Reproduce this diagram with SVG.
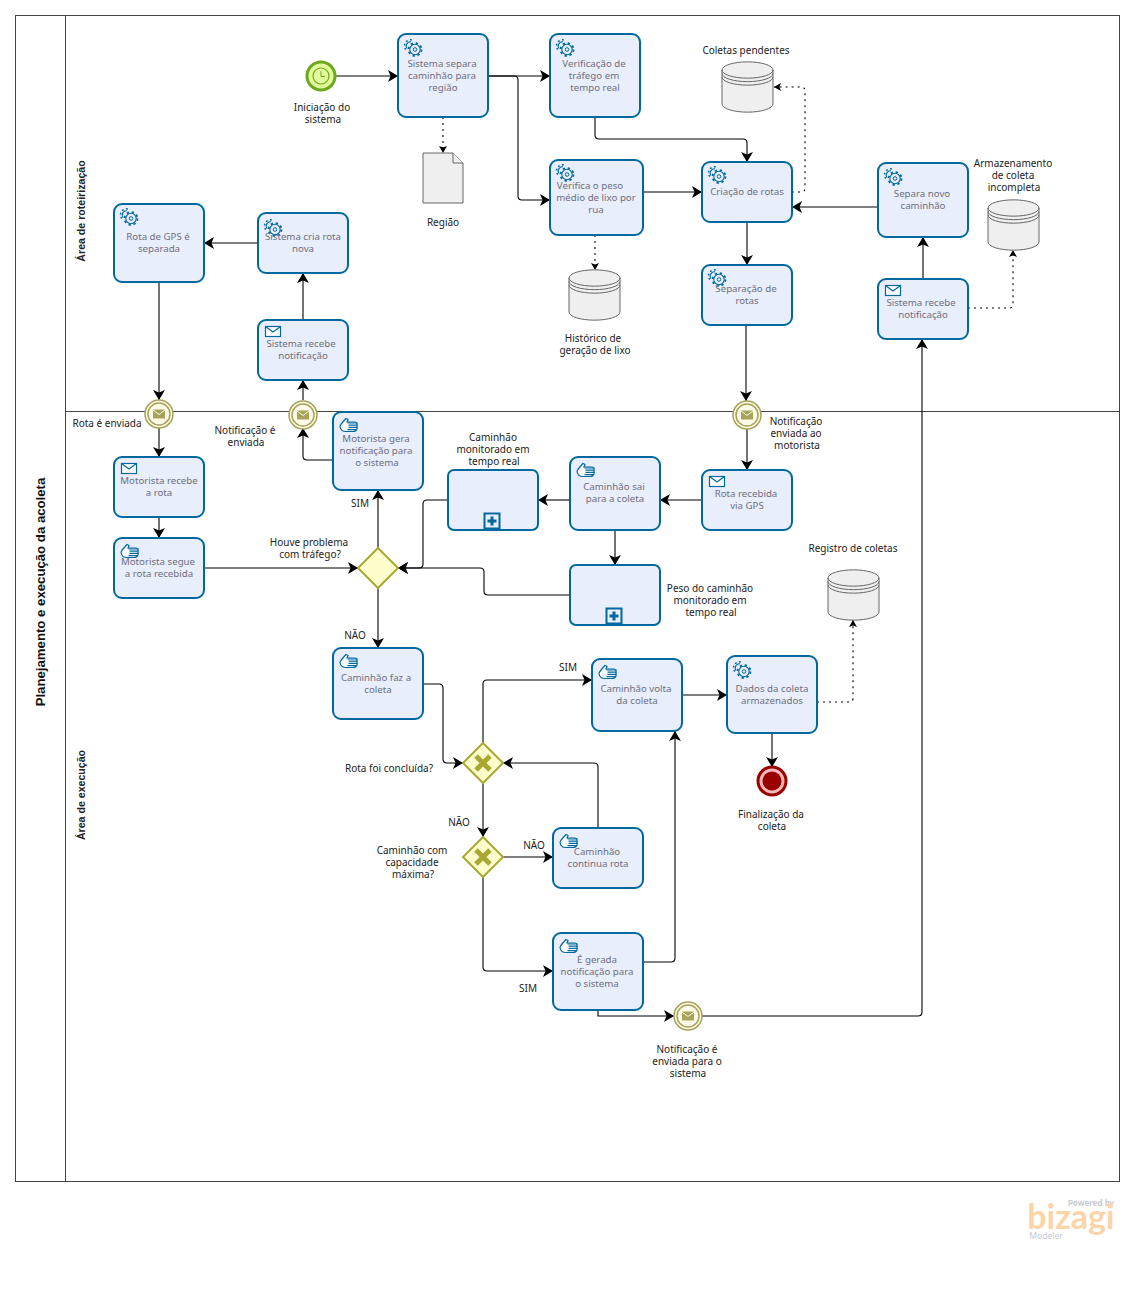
<svg xmlns="http://www.w3.org/2000/svg" width="1136" height="1311" viewBox="0 0 1136 1311">
<style>
text{font-family:"Noto Sans","Open Sans",sans-serif;font-size:10px;fill:#222;text-anchor:middle}
.t{fill:#6e6e7c;font-size:9.700px}
.task{fill:#e9eefd;stroke:#00689f;stroke-width:2}
.c{fill:none;stroke:#000;stroke-width:1.1}
.d{stroke-dasharray:2 4}
.lane{fill:none;stroke:#444;stroke-width:1}
.ds{fill:#efefef;stroke:#666;stroke-width:1}
.ev1{fill:#fdfbe8;stroke:#a8a35a;stroke-width:1.5}
.gw{fill:#fefdcb;stroke:#a9a834;stroke-width:2}
.x{stroke:#a9a834;stroke-width:5;fill:none}
.ic{fill:none;stroke:#00689f;stroke-width:1}
.lane-title{font-family:"Liberation Sans",sans-serif;font-weight:bold;font-size:10.600px}
.logo{fill:#c6cbd0;font-size:8px}
</style>
<defs>
<marker id="a" markerUnits="userSpaceOnUse" markerWidth="14" markerHeight="14" refX="11" refY="7" orient="auto">
<path d="M11 7L1 1L3.500 7L1 13Z" fill="#000"/>
</marker>
<marker id="b" markerUnits="userSpaceOnUse" markerWidth="10" markerHeight="10" refX="8" refY="5" orient="auto">
<path d="M8 5L1 1L2.500 5L1 9Z" fill="#000"/>
</marker>
<g id="gear" class="ic">
<circle cx="12" cy="10.500" r="5.200" stroke-width="1.100"/>
<circle cx="12" cy="10.500" r="6.500" stroke-width="1.800" stroke-dasharray="2.300 2.800"/>
<circle cx="12" cy="10.500" r="1.800"/>
<path d="M3.800 9.500A4.400 4.400 0 0 1 8 2.800" stroke-width="1.100"/>
<path d="M2.800 10.500A6 6 0 0 1 9 1" stroke-width="1.500" stroke-dasharray="1.800 2.400"/>
</g>
<g id="hand" class="ic">
<path d="M1 8.500C1.500 6 4 4 7 .5L9 1.500L8 4H16Q18.500 4.500 18 6.500V11Q17 13.500 14 13.500H7C3.500 13.500 1.500 11.500 1 8.500Z" fill="#fff" stroke-width="1.200"/>
<path d="M8.500 5H18.500M9.500 7.200H18.500M9.500 9.400H18.500M8.500 11.600H17" stroke-width="1.200"/>
</g>
<g id="msg" class="ic">
<rect x=".5" y=".5" width="15" height="10" fill="#fff" stroke-width="1.200"/>
<path d="M.5 .5L8 6L15.500 .5" stroke-width="1.200"/>
</g>
<g id="ie">
<circle r="14" class="ev1"/>
<circle r="11" class="ev1"/>
<path d="M-6 -4.500H6V4.500H-6Z" fill="#a8a35a"/>
<path d="M-6 -4L0 .5L6 -4" fill="none" stroke="#fdfbe8" stroke-width="1"/>
</g>
<g id="store">
<path d="M0 8A25 8 0 0 1 51 8V42A25 8 0 0 1 0 42Z" class="ds"/>
<path d="M0 8A25 8 0 0 0 51 8M0 11.500A25 8 0 0 0 51 11.500M0 15A25 8 0 0 0 51 15" fill="none" stroke="#666"/>
</g>
<g id="plus">
<rect x="-7.500" y="-7.500" width="15" height="15" fill="#e9eefd" stroke="#00689f" stroke-width="2"/>
<path d="M0 -4.500V4.500M-4.500 0H4.500" stroke="#00689f" stroke-width="3"/>
</g>
</defs>

<rect width="1136" height="1311" fill="#fff"/>
<g id="pool">
<rect class="lane" x="15.500" y="15.500" width="1104" height="1166"/>
<path class="lane" d="M65.500 15.500V1181.500M65.500 411.500H1119.500"/>
<text x="45" y="592" transform="rotate(-90 45 592)" style="font-family:'Liberation Sans',sans-serif;font-size:13.200px;font-weight:bold;fill:#111">Planejamento e execução da acoleta</text>
<text class="lane-title" x="85" y="211" transform="rotate(-90 85 211)">Área de roteirização</text>
<text class="lane-title" x="85" y="795" transform="rotate(-90 85 795)">Área de execução</text>
</g>

<g id="connectors">
<path class="c" marker-end="url(#a)" d="M336 76H398"/>
<path class="c" marker-end="url(#a)" d="M488 76H550"/>
<path class="c" marker-end="url(#a)" d="M488 76H514Q518 76 518 80V196Q518 200 522 200H550"/>
<path class="c d" marker-end="url(#b)" d="M443 117V153"/>
<path class="c" marker-end="url(#a)" d="M595 117V135Q595 139 599 139H743Q747 139 747 143V162"/>
<path class="c" marker-end="url(#a)" d="M643 192H702"/>
<path class="c d" marker-end="url(#b)" d="M595 235V270"/>
<path class="c d" marker-end="url(#b)" d="M792 192H801Q805 192 805 188V91Q805 87 801 87H774"/>
<path class="c" marker-end="url(#a)" d="M878 207H792"/>
<path class="c" marker-end="url(#a)" d="M747 222V265"/>
<path class="c" marker-end="url(#a)" d="M746 325V401"/>
<path class="c" marker-end="url(#a)" d="M747 429V470"/>
<path class="c" marker-end="url(#a)" d="M702 500H660"/>
<path class="c" marker-end="url(#a)" d="M570 500H538"/>
<path class="c" marker-end="url(#a)" d="M615 530V565"/>
<path class="c" marker-end="url(#a)" d="M448 500H427Q423 500 423 504V564Q423 568 419 568H398"/>
<path class="c" marker-end="url(#a)" d="M570 595H488Q484 595 484 591V572Q484 568 480 568H398"/>
<path class="c" marker-end="url(#a)" d="M923 279V237"/>
<path class="c d" marker-end="url(#b)" d="M968 308H1009Q1013 308 1013 304V250"/>
<path class="c" marker-end="url(#a)" d="M598 1010V1016H674"/>
<path class="c" marker-end="url(#a)" d="M702 1016H918Q922 1016 922 1012V339"/>
<path class="c" marker-end="url(#a)" d="M643 962H671Q675 962 675 958V731"/>
<path class="c" marker-end="url(#a)" d="M483 743V684Q483 680 487 680H592"/>
<path class="c" marker-end="url(#a)" d="M423 684H439Q443 684 443 688V759Q443 763 447 763H463"/>
<path class="c" marker-end="url(#a)" d="M598 828V767Q598 763 594 763H503"/>
<path class="c" marker-end="url(#a)" d="M483 783V837"/>
<path class="c" marker-end="url(#a)" d="M503 857H553"/>
<path class="c" marker-end="url(#a)" d="M483 877V967Q483 971 487 971H553"/>
<path class="c" marker-end="url(#a)" d="M682 695H727"/>
<path class="c" marker-end="url(#a)" d="M772 733V767"/>
<path class="c d" marker-end="url(#b)" d="M817 702H849Q853 702 853 698V620"/>
<path class="c" marker-end="url(#a)" d="M378 548V490"/>
<path class="c" marker-end="url(#a)" d="M378 588V648"/>
<path class="c" marker-end="url(#a)" d="M204 568H358"/>
<path class="c" marker-end="url(#a)" d="M159 517V538"/>
<path class="c" marker-end="url(#a)" d="M159 428V457"/>
<path class="c" marker-end="url(#a)" d="M159 282V400"/>
<path class="c" marker-end="url(#a)" d="M258 243H204"/>
<path class="c" marker-end="url(#a)" d="M303 320V273"/>
<path class="c" marker-end="url(#a)" d="M303 400V380"/>
<path class="c" marker-end="url(#a)" d="M333 460H307Q303 460 303 456V428"/>
</g>

<g id="start"><circle cx="321" cy="76" r="14" fill="#e2fb9b" stroke="#6fa81f" stroke-width="3"/><circle cx="321" cy="76" r="8" fill="none" stroke="#6fa81f" stroke-width="1.200"/><path d="M321 71V76.500H325" fill="none" stroke="#6fa81f"/><text x="322" y="111">Iniciação do</text><text x="323" y="123">sistema</text></g>

<g id="t1"><rect class="task" x="398" y="34" width="90" height="83" rx="8"/><use href="#gear" x="403" y="39"/><text class="t" x="442" y="67">Sistema separa</text><text class="t" x="442" y="79">caminhão para</text><text class="t" x="443" y="91">região</text></g>
<g id="t2"><rect class="task" x="550" y="34" width="90" height="83" rx="8"/><use href="#gear" x="555" y="39"/><text class="t" x="594" y="67">Verificação de</text><text class="t" x="594" y="79">tráfego em</text><text class="t" x="595" y="91">tempo real</text></g>
<g id="t3"><rect class="task" x="550" y="160" width="93" height="75" rx="8"/><use href="#gear" x="555" y="164"/><text class="t" x="590" y="189">Verifica o peso</text><text class="t" x="596" y="201">médio de lixo por</text><text class="t" x="596" y="213">rua</text></g>
<g id="t4"><rect class="task" x="702" y="162" width="90" height="60" rx="8"/><use href="#gear" x="707" y="166"/><text class="t" x="747" y="195">Criação de rotas</text></g>
<g id="t5"><rect class="task" x="878" y="163" width="90" height="74" rx="8"/><use href="#gear" x="883" y="168"/><text class="t" x="922" y="197">Separa novo</text><text class="t" x="923" y="209">caminhão</text></g>
<g id="t6"><rect class="task" x="702" y="265" width="90" height="60" rx="8"/><use href="#gear" x="707" y="269"/><text class="t" x="746" y="292">Separação de</text><text class="t" x="747" y="304">rotas</text></g>
<g id="t7"><rect class="task" x="878" y="279" width="90" height="60" rx="8"/><use href="#msg" x="885" y="285"/><text class="t" x="921" y="306">Sistema recebe</text><text class="t" x="923" y="318">notificação</text></g>
<g id="t8"><rect class="task" x="258" y="213" width="90" height="60" rx="8"/><use href="#gear" x="263" y="219"/><text class="t" x="303" y="240">Sistema cria rota</text><text class="t" x="303" y="252">nova</text></g>
<g id="t9"><rect class="task" x="114" y="204" width="90" height="78" rx="8"/><use href="#gear" x="119" y="208"/><text class="t" x="158" y="240">Rota de GPS é</text><text class="t" x="159" y="252">separada</text></g>
<g id="t10"><rect class="task" x="258" y="320" width="90" height="60" rx="8"/><use href="#msg" x="265" y="326"/><text class="t" x="301" y="347">Sistema recebe</text><text class="t" x="303" y="359">notificação</text></g>
<g id="t11"><rect class="task" x="333" y="412" width="90" height="78" rx="8"/><use href="#hand" x="339" y="418"/><text class="t" x="376" y="442">Motorista gera</text><text class="t" x="376" y="454">notificação para</text><text class="t" x="377" y="466">o sistema</text></g>
<g id="t12"><rect class="task" x="114" y="457" width="90" height="60" rx="8"/><use href="#msg" x="121" y="463"/><text class="t" x="159" y="484">Motorista recebe</text><text class="t" x="159" y="496">a rota</text></g>
<g id="t13"><rect class="task" x="114" y="538" width="90" height="60" rx="8"/><use href="#hand" x="120" y="544"/><text class="t" x="158" y="565">Motorista segue</text><text class="t" x="159" y="577">a rota recebida</text></g>
<g id="t14"><rect class="task" x="448" y="470" width="90" height="60" rx="6"/><use href="#plus" x="492" y="521"/></g>
<g id="t15"><rect class="task" x="570" y="457" width="90" height="73" rx="8"/><use href="#hand" x="576" y="463"/><text class="t" x="614" y="490">Caminhão sai</text><text class="t" x="615" y="502">para a coleta</text></g>
<g id="t16"><rect class="task" x="702" y="470" width="90" height="60" rx="8"/><use href="#msg" x="709" y="476"/><text class="t" x="746" y="497">Rota recebida</text><text class="t" x="747" y="509">via GPS</text></g>
<g id="t17"><rect class="task" x="570" y="565" width="90" height="60" rx="6"/><use href="#plus" x="614" y="616"/></g>
<g id="t18"><rect class="task" x="333" y="648" width="90" height="71" rx="8"/><use href="#hand" x="339" y="654"/><text class="t" x="376" y="681">Caminhão faz a</text><text class="t" x="378" y="693">coleta</text></g>
<g id="t19"><rect class="task" x="592" y="659" width="90" height="72" rx="8"/><use href="#hand" x="598" y="665"/><text class="t" x="636" y="692">Caminhão volta</text><text class="t" x="637" y="704">da coleta</text></g>
<g id="t20"><rect class="task" x="727" y="656" width="90" height="77" rx="8"/><use href="#gear" x="732" y="661"/><text class="t" x="772" y="692">Dados da coleta</text><text class="t" x="772" y="704">armazenados</text></g>
<g id="t21"><rect class="task" x="553" y="828" width="90" height="60" rx="8"/><use href="#hand" x="559" y="834"/><text class="t" x="597" y="855">Caminhão</text><text class="t" x="598" y="867">continua rota</text></g>
<g id="t22"><rect class="task" x="553" y="933" width="90" height="77" rx="8"/><use href="#hand" x="559" y="939"/><text class="t" x="597" y="963">É gerada</text><text class="t" x="597" y="975">notificação para</text><text class="t" x="597" y="987">o sistema</text></g>

<g id="e1"><use href="#ie" x="159" y="414"/><text x="107" y="427">Rota é enviada</text></g>
<g id="e2"><use href="#ie" x="303" y="415"/><text x="245" y="434">Notificação é</text><text x="246" y="446">enviada</text></g>
<g id="e3"><use href="#ie" x="747" y="415"/><text x="796" y="425">Notificação</text><text x="796" y="437">enviada ao</text><text x="797" y="449">motorista</text></g>
<g id="e4"><use href="#ie" x="688" y="1016"/><text x="687" y="1053">Notificação é</text><text x="687" y="1065">enviada para o</text><text x="688" y="1077">sistema</text></g>
<g id="end"><circle cx="772" cy="781" r="14" fill="#f4b8b8" stroke="#9b0000" stroke-width="3"/><circle cx="772" cy="781" r="9.500" fill="#9b0000"/><text x="771" y="818">Finalização da</text><text x="772" y="830">coleta</text></g>

<g id="g1"><path class="gw" d="M378 548L398 568L378 588L358 568Z"/><text x="309" y="546">Houve problema</text><text x="310" y="558">com tráfego?</text></g>
<g id="g2"><path class="gw" d="M483 743L503 763L483 783L463 763Z"/><path class="x" d="M476 756L490 770M490 756L476 770"/><text x="389" y="772">Rota foi concluída?</text></g>
<g id="g3"><path class="gw" d="M483 837L503 857L483 877L463 857Z"/><path class="x" d="M476 850L490 864M490 850L476 864"/><text x="412" y="854">Caminhão com</text><text x="412" y="866">capacidade</text><text x="413" y="878">máxima?</text></g>

<g id="d1"><path class="ds" d="M423 153H453L463 163V203H423Z"/><path class="ds" d="M453 153V163H463" fill="none"/><text x="443" y="226">Região</text></g>
<g id="s1"><use href="#store" x="722" y="62"/><text x="746" y="54">Coletas pendentes</text></g>
<g id="s2"><use href="#store" x="988" y="200"/><text x="1013" y="167">Armazenamento</text><text x="1013" y="179">de coleta</text><text x="1014" y="191">incompleta</text></g>
<g id="s3"><use href="#store" x="569" y="270"/><text x="593" y="342">Histórico de</text><text x="595" y="354">geração de lixo</text></g>
<g id="s4"><use href="#store" x="828" y="570"/><text x="853" y="552">Registro de coletas</text></g>

<g id="labels">
<text x="493" y="441">Caminhão</text><text x="493" y="453">monitorado em</text><text x="494" y="465">tempo real</text>
<text x="710" y="592">Peso do caminhão</text><text x="710" y="604">monitorado em</text><text x="711" y="616">tempo real</text>
<text x="360" y="507">SIM</text><text x="355" y="639">NÃO</text><text x="568" y="671">SIM</text><text x="459" y="826">NÃO</text><text x="534" y="849">NÃO</text><text x="528" y="992">SIM</text>
</g>

<g id="logo">
<text class="logo" x="1091" y="1206" style="font-weight:bold">Powered by</text>
<text x="1071" y="1229" style="font-size:34px;fill:#fbd4aa;font-family:Lato,sans-serif;font-weight:bold">bizagi</text>
<text class="logo" x="1046" y="1239" style="font-size:8.500px">Modeler</text>
</g>
</svg>
